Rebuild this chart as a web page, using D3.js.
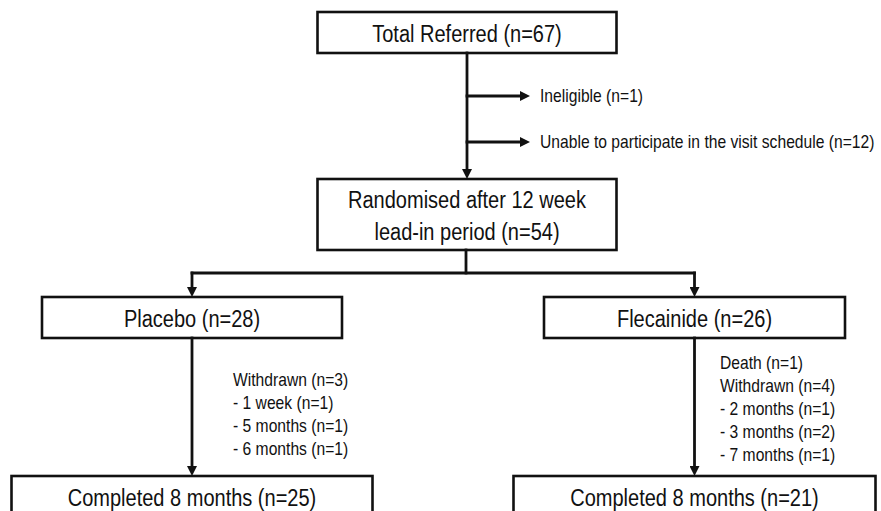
<!DOCTYPE html>
<html>
<head>
<meta charset="utf-8">
<script src="https://cdn.jsdelivr.net/npm/d3@7"></script>
<style>
  body { margin: 0; background: #fff; }
  text { font-family: "Liberation Sans", Arial, sans-serif; fill: #111; }
</style>
</head>
<body>
<div id="container"></div>
<script>
/**
 * CONSTANTS AND GLOBALS
 * */
const width = 881,
  height = 511;

// text in the source figure is horizontally squeezed a little
const squeeze = 0.87;

/**
 * DATA
 * */
const boxIds = ["referred", "randomised", "placebo", "flecainide", "donePlacebo", "doneFlecainide"];
const boxLabels = [
  ["Total Referred (n=67)"],
  ["Randomised after 12 week", "lead-in period (n=54)"],
  ["Placebo (n=28)"],
  ["Flecainide (n=26)"],
  ["Completed 8 months (n=25)"],
  ["Completed 8 months (n=21)"],
];
const exclusions = ["Ineligible (n=1)", "Unable to participate in the visit schedule (n=12)"];
const placeboLosses = ["Withdrawn (n=3)", "- 1 week (n=1)", "- 5 months (n=1)", "- 6 months (n=1)"];
const flecainideLosses = ["Death (n=1)", "Withdrawn (n=4)", "- 2 months (n=1)", "- 3 months (n=2)", "- 7 months (n=1)"];

/**
 * LAYOUT
 * column centres and row tops/heights, kept apart from the data
 * */
const col = d3.scaleOrdinal().domain(["left", "mid", "right"]).range([192, 467, 694.5]);
const rowTop = d3.scaleOrdinal().domain(["r0", "r1", "r2", "r3"]).range([12, 179, 297, 476]);
const rowH = d3.scaleOrdinal().domain(["r0", "r1", "r2", "r3"]).range([41, 71, 41, 42]);

const layout = {
  referred: { c: "mid", r: "r0", w: 299 },
  randomised: { c: "mid", r: "r1", w: 299 },
  placebo: { c: "left", r: "r2", w: 300 },
  flecainide: { c: "right", r: "r2", w: 301 },
  donePlacebo: { c: "left", r: "r3", w: 361 },
  doneFlecainide: { c: "right", r: "r3", w: 362 },
};

const boxes = boxIds.map((id, i) => {
  const l = layout[id];
  return {
    id,
    lines: boxLabels[i],
    x: col(l.c) - l.w / 2,
    y: rowTop(l.r),
    w: l.w,
    h: rowH(l.r),
  };
});
const box = Object.fromEntries(boxes.map((b) => [b.id, b]));

/**
 * DRAW
 * */
const svg = d3
  .select("#container")
  .append("svg")
  .attr("width", width)
  .attr("height", height);

svg
  .append("defs")
  .append("marker")
  .attr("id", "arrow")
  .attr("viewBox", "0 0 10 10")
  .attr("refX", 4)
  .attr("refY", 5)
  .attr("markerWidth", 11)
  .attr("markerHeight", 10)
  .attr("markerUnits", "userSpaceOnUse")
  .attr("orient", "auto")
  .append("path")
  .attr("d", "M0,0 L10,5 L0,10 Z")
  .attr("fill", "#111");

// boxes
const g = svg
  .selectAll("g.box")
  .data(boxes)
  .join("g")
  .attr("class", "box");

g.append("rect")
  .attr("x", (d) => d.x)
  .attr("y", (d) => d.y)
  .attr("width", (d) => d.w)
  .attr("height", (d) => d.h)
  .attr("fill", "#fff")
  .attr("stroke", "#111")
  .attr("stroke-width", 2.6);

g.each(function (d) {
  const cx = d.x + d.w / 2,
    lh = 32,
    y0 = d.y + d.h / 2 - ((d.lines.length - 1) * lh) / 2 + 1;
  d3.select(this)
    .selectAll("text")
    .data(d.lines)
    .join("text")
    .attr("transform", (t, i) => `translate(${cx},${y0 + i * lh}) scale(${squeeze},1)`)
    .attr("text-anchor", "middle")
    .attr("dominant-baseline", "central")
    .attr("font-size", 23)
    .text((t) => t);
});

// connectors
const links = [];
const mx = col("mid");
const refBox = box.referred,
  rndBox = box.randomised;
// trunk from referred to randomised
links.push({ pts: [[mx, refBox.y + refBox.h], [mx, rndBox.y]], arrow: true });
// exclusions
const exclY = [96, 142];
exclusions.forEach((t, i) => links.push({ pts: [[mx, exclY[i]], [530, exclY[i]]], arrow: true }));
// split
const splitY = 273;
links.push({ pts: [[mx - 1, rndBox.y + rndBox.h], [mx - 1, splitY]], arrow: false });
links.push({ pts: [[col("left"), splitY], [col("right"), splitY]], arrow: false });
links.push({ pts: [[col("left"), splitY], [col("left"), box.placebo.y]], arrow: true });
links.push({ pts: [[col("right"), splitY], [col("right"), box.flecainide.y]], arrow: true });
// arms down to completion
links.push({ pts: [[col("left"), box.placebo.y + box.placebo.h], [col("left"), box.donePlacebo.y]], arrow: true });
links.push({ pts: [[col("right"), box.flecainide.y + box.flecainide.h], [col("right"), box.doneFlecainide.y]], arrow: true });

const lineGen = d3.line();
svg
  .selectAll("path.link")
  .data(links)
  .join("path")
  .attr("class", "link")
  .attr("d", (d) => {
    const p = d.pts.map((q) => q.slice());
    if (d.arrow) {
      // pull the end back so the arrowhead tip lands on the target
      const a = p[p.length - 2], b = p[p.length - 1];
      const len = Math.hypot(b[0] - a[0], b[1] - a[1]);
      b[0] -= ((b[0] - a[0]) / len) * 6;
      b[1] -= ((b[1] - a[1]) / len) * 6;
    }
    return lineGen(p);
  })
  .attr("fill", "none")
  .attr("stroke", "#111")
  .attr("stroke-width", 2.8)
  .attr("stroke-linecap", "square")
  .attr("marker-end", (d) => (d.arrow ? "url(#arrow)" : null));

// side notes
const note = (list, x, y0, step) =>
  svg
    .append("g")
    .selectAll("text")
    .data(list)
    .join("text")
    .attr("transform", (t, i) => `translate(${x},${y0 + i * step}) scale(0.86,1)`)
    .attr("dominant-baseline", "central")
    .attr("font-size", 18.2)
    .text((t) => t);

exclusions.forEach((t, i) => note([t], 540, exclY[i], 0));
note(placeboLosses, 233, 380, 23);
note(flecainideLosses, 720, 363, 23);
</script>
</body>
</html>
